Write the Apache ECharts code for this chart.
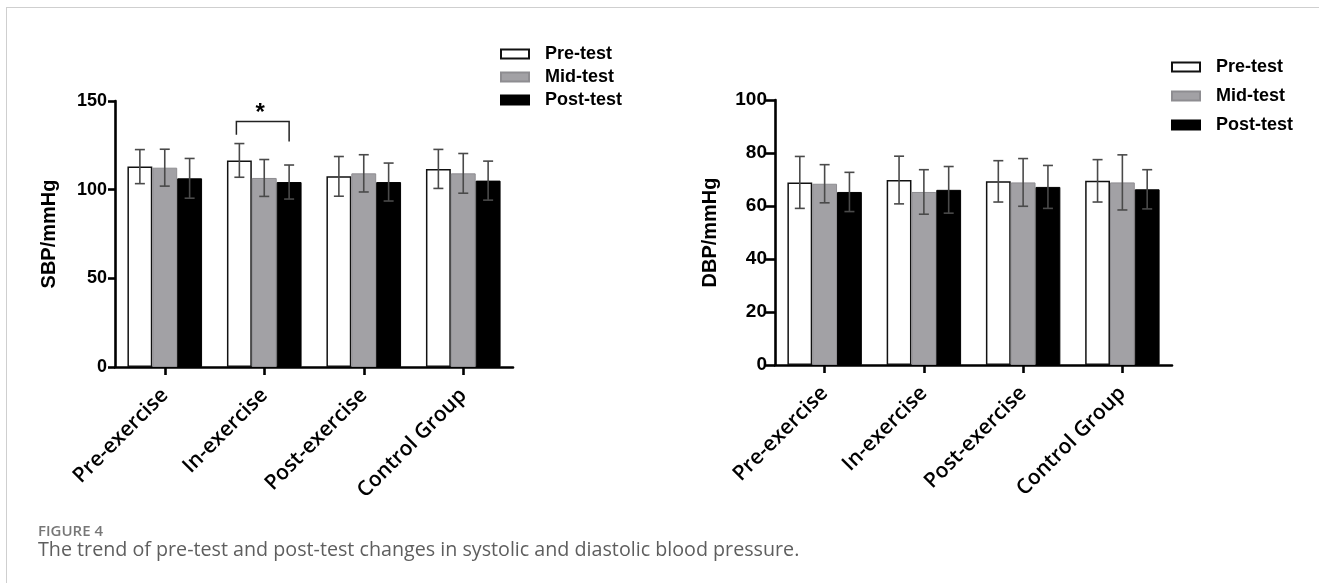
<!DOCTYPE html>
<html>
<head>
<meta charset="utf-8">
<script src="https://cdn.jsdelivr.net/npm/echarts@6/dist/echarts.min.js"></script>
<style>
  html, body { margin:0; padding:0; background:#fff; }
  #card { position:absolute; left:6px; top:7px; width:1400px; height:700px; border-left:1px solid #cfcfcf; border-top:1px solid #cfcfcf; }
  #chart { position:absolute; left:0; top:0; width:1319px; height:583px; }
  .fig { position:absolute; left:38px; top:523px; font-family:"Open Sans",sans-serif; font-weight:600; font-size:15px; line-height:1; color:#777; }
  .cap { position:absolute; left:38px; top:539px; font-family:"Open Sans",sans-serif; font-size:19.7px; line-height:1; color:#5e5e5e; }
</style>
</head>
<body>
<div id="card"></div>
<div id="chart"></div>
<div class="fig">FIGURE 4</div>
<div class="cap">The trend of pre-test and post-test changes in systolic and diastolic blood pressure.</div>
<script>
// ---- data ----
const categories = ['Pre-exercise', 'In-exercise', 'Post-exercise', 'Control Group'];
const seriesNames = ['Pre-test', 'Mid-test', 'Post-test'];

const sbpPre = [113, 116.5, 107.5, 111.7];
const sbpPreSd = [9.6, 9.5, 11.2, 11];
const sbpMid = [112.4, 106.6, 109.2, 109.2];
const sbpMidSd = [10.4, 10.4, 10.5, 11.2];
const sbpPost = [106.4, 104.3, 104.3, 105.1];
const sbpPostSd = [11.2, 9.6, 10.7, 11];

const dbpPre = [68.9, 69.8, 69.3, 69.5];
const dbpPreSd = [9.8, 9, 7.8, 8];
const dbpMid = [68.4, 65.3, 68.9, 68.9];
const dbpMidSd = [7.2, 8.4, 9, 10.4];
const dbpPost = [65.3, 66.1, 67.2, 66.3];
const dbpPostSd = [7.4, 8.8, 8.1, 7.4];

const sbpTicks = [0, 50, 100, 150];
const dbpTicks = [0, 20, 40, 60, 80, 100];

// significance bracket: [category, top value, left end value, right end value, star value]
const sigBracket = [[1, 138.5, 131, 127.2, 146.5]];

// ---- styles ----
const FONT = '"Liberation Sans", Arial, sans-serif';
const barStyles = [
  { color: '#ffffff', borderColor: '#111111', borderWidth: 1.5 },
  { color: '#a2a1a5', borderColor: '#8e8d91', borderWidth: 1 },
  { color: '#000000', borderColor: '#000000', borderWidth: 1 }
];

function errData(means, sds) {
  const out = [];
  means.forEach((m, k) => {
    m.forEach((v, i) => out.push([i, k, v, sds[k][i]]));
  });
  return out;
}

function errRender(params, api) {
  const cat = api.value(0), k = api.value(1), mean = api.value(2), sd = api.value(3);
  const band = api.size([1, 0])[0];
  const bw = band * 0.25;
  const cx = api.coord([cat, 0])[0] + (k - 1) * bw;
  const yt = api.coord([cat, mean + sd])[1];
  const yb = api.coord([cat, mean - sd])[1];
  const cap = 5;
  const st = { stroke: '#4a4a4a', lineWidth: 1.6 };
  return {
    type: 'group',
    children: [
      { type: 'line', shape: { x1: cx, y1: yt, x2: cx, y2: yb }, style: st },
      { type: 'line', shape: { x1: cx - cap, y1: yt, x2: cx + cap, y2: yt }, style: st },
      { type: 'line', shape: { x1: cx - cap, y1: yb, x2: cx + cap, y2: yb }, style: st }
    ]
  };
}

function bracketRender(params, api) {
  const cat = api.value(0);
  const band = api.size([1, 0])[0];
  const cx = api.coord([cat, 0])[0];
  const xl = cx - 0.28 * band, xr = cx + 0.25 * band;
  const yTop = api.coord([cat, api.value(1)])[1];
  const yL = api.coord([cat, api.value(2)])[1];
  const yR = api.coord([cat, api.value(3)])[1];
  const yS = api.coord([cat, api.value(4)])[1];
  return {
    type: 'group',
    children: [
      { type: 'polyline', shape: { points: [[xl, yL], [xl, yTop], [xr, yTop], [xr, yR]] },
        style: { stroke: '#222', lineWidth: 1.5, fill: null } },
      { type: 'text', style: { text: '*', x: cx - 4, y: yS + 6, align: 'center', verticalAlign: 'middle',
        font: 'bold 24px ' + FONT, fill: '#000' } }
    ]
  };
}

const axisLine = { show: true, lineStyle: { color: '#000', width: 2.6 } };

function xAxis(gi) {
  return {
    type: 'category', gridIndex: gi, data: categories,
    axisLine: axisLine,
    axisTick: { show: true, alignWithLabel: true, length: 8, lineStyle: { color: '#000', width: 2.6 } },
    axisLabel: { rotate: 45, margin: 25, color: '#000', fontFamily: '"Open Sans", sans-serif', fontWeight: 600, fontSize: 21 },
    splitLine: { show: false }
  };
}

function yAxis(gi, ticks, name, fs, tickLen, nameGap) {
  const step = ticks[1] - ticks[0];
  return {
    type: 'value', gridIndex: gi, min: ticks[0], max: ticks[ticks.length - 1], interval: step,
    name: name, nameLocation: 'middle', nameGap: nameGap,
    nameTextStyle: { fontFamily: FONT, fontWeight: 'bold', fontSize: 20, color: '#000' },
    axisLine: axisLine,
    axisTick: { show: true, length: tickLen, lineStyle: { color: '#000', width: 2.6 } },
    axisLabel: { fontFamily: FONT, fontWeight: 'bold', fontSize: fs, color: '#000', margin: 8 },
    splitLine: { show: false }
  };
}

function bars(gi, data) {
  return data.map((d, k) => ({
    name: seriesNames[k], type: 'bar', xAxisIndex: gi, yAxisIndex: gi, data: d,
    barGap: '0%', barCategoryGap: '25%', itemStyle: barStyles[k], silent: true, z: 2
  }));
}

function legend(left, top, gap, fs) {
  return {
    orient: 'vertical', left: left, top: top, padding: 0, itemWidth: 28, itemHeight: 9, itemGap: gap,
    icon: 'rect', data: seriesNames, selectedMode: false,
    textStyle: { fontFamily: FONT, fontWeight: 'bold', fontSize: fs, color: '#000', padding: [0, 0, 0, 11] }
  };
}

const chart = echarts.init(document.getElementById('chart'), null, { renderer: 'canvas' });
chart.setOption({
  animation: false,
  backgroundColor: 'transparent',
  legend: [legend(500, 45, 5, 18), legend(1171, 58, 11, 18)],
  grid: [
    { left: 115, top: 101, width: 398, height: 266 },
    { left: 775, top: 100, width: 397, height: 265 }
  ],
  xAxis: [xAxis(0), xAxis(1)],
  yAxis: [yAxis(0, sbpTicks, 'SBP/mmHg', 18, 7, 56), yAxis(1, dbpTicks, 'DBP/mmHg', 19, 10, 55)],
  series: [
    ...bars(0, [sbpPre, sbpMid, sbpPost]),
    ...bars(1, [dbpPre, dbpMid, dbpPost]),
    { type: 'custom', xAxisIndex: 0, yAxisIndex: 0, renderItem: errRender, encode: { x: 0, y: 2 },
      data: errData([sbpPre, sbpMid, sbpPost], [sbpPreSd, sbpMidSd, sbpPostSd]), z: 5, silent: true },
    { type: 'custom', xAxisIndex: 1, yAxisIndex: 1, renderItem: errRender, encode: { x: 0, y: 2 },
      data: errData([dbpPre, dbpMid, dbpPost], [dbpPreSd, dbpMidSd, dbpPostSd]), z: 5, silent: true },
    { type: 'custom', xAxisIndex: 0, yAxisIndex: 0, renderItem: bracketRender, encode: { x: 0, y: 1 },
      data: sigBracket, z: 5, silent: true, clip: false }
  ]
});
</script>
</body>
</html>
